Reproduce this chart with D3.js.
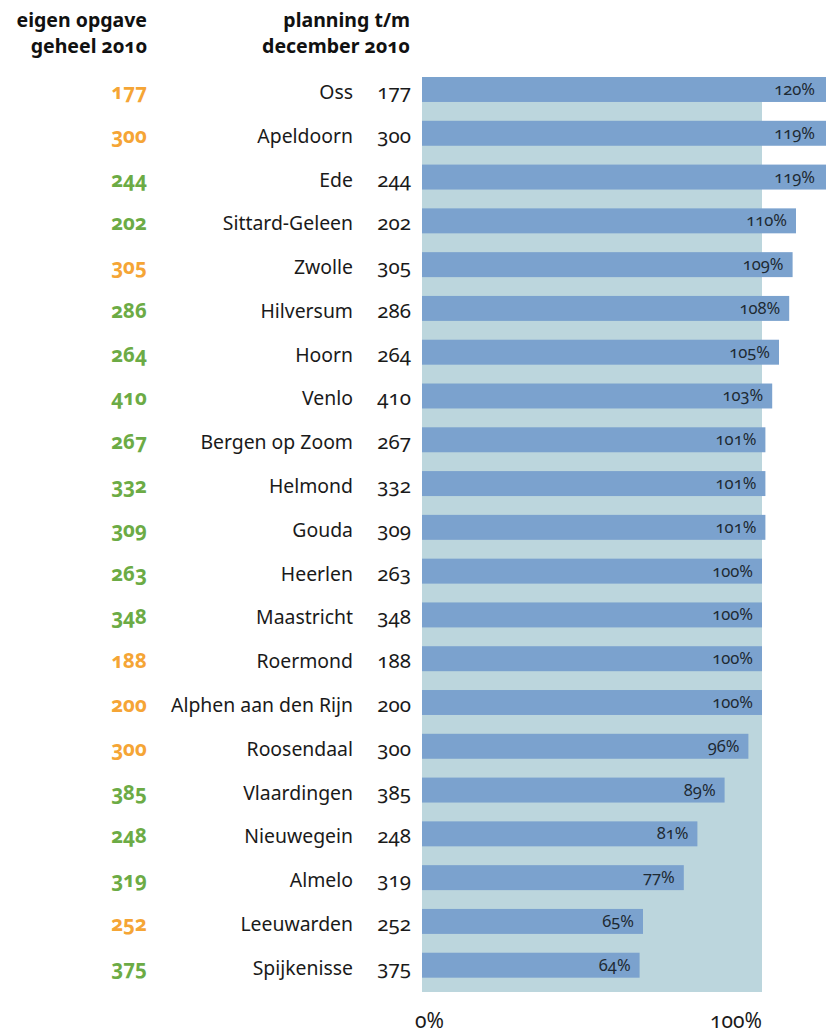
<!DOCTYPE html>
<html><head><meta charset="utf-8">
<script src="https://cdn.jsdelivr.net/npm/d3@7"></script>
<style>
body{margin:0;background:#fff;}
svg text{font-family:"Noto Sans","Open Sans",sans-serif;font-feature-settings:"onum" 1;font-variant-numeric:oldstyle-nums;}
</style></head>
<body><svg id="c" width="826" height="1034"></svg>
<script>
const cities = ["Oss","Apeldoorn","Ede","Sittard-Geleen","Zwolle","Hilversum","Hoorn","Venlo","Bergen op Zoom","Helmond","Gouda","Heerlen","Maastricht","Roermond","Alphen aan den Rijn","Roosendaal","Vlaardingen","Nieuwegein","Almelo","Leeuwarden","Spijkenisse"];
const eigenOpgave = [177,300,244,202,305,286,264,410,267,332,309,263,348,188,200,300,385,248,319,252,375];
const eigenStatus = ["o","o","g","g","o","g","g","g","g","g","g","g","g","o","o","o","g","g","g","o","g"];
const planning = [177,300,244,202,305,286,264,410,267,332,309,263,348,188,200,300,385,248,319,252,375];
const percent = [120,119,119,110,109,108,105,103,101,101,101,100,100,100,100,96,89,81,77,65,64];
const axisTicks = [0,100];
const headerLeft = ["eigen opgave","geheel 2010"];
const headerMid = ["planning t/m","december 2010"];

const W = 826, H = 1034;
const svg = d3.select("#c");
const x = d3.scaleLinear().domain([0,100]).range([422,762]);
const y = d3.scaleBand().domain(cities).range([77-9.4, 977.7+9.4]).paddingInner(0.43).paddingOuter(0.215);
const colorStatus = {o:"#f5a535", g:"#6cab45"};

// background
svg.append("rect").attr("x", x(0)).attr("y", y(cities[0])).attr("width", x(100)-x(0))
  .attr("height", 992 - y(cities[0])).attr("fill", "#bcd6dd");

const rows = svg.selectAll("g.row").data(cities).join("g").attr("class","row");
rows.append("rect").attr("x", x(0)).attr("y", d=>y(d)).attr("height", y.bandwidth())
  .attr("width", (d,i)=>Math.min(x(percent[i]), W) - x(0)).attr("fill","#7ba2ce");

rows.append("text").attr("x",(d,i)=>Math.min(x(percent[i]), W-2) - 9)
  .attr("y", d=>y(d)+y.bandwidth()/2+5.5).attr("text-anchor","end")
  .attr("font-size",16.5).attr("fill","#1e2a33").text((d,i)=>percent[i]+"%");

rows.append("text").attr("x",353).attr("y", d=>y(d)+y.bandwidth()/2+9.5).attr("text-anchor","end")
  .attr("font-size",19.4).attr("fill","#1a1a1a").text(d=>d);
rows.append("text").attr("x",411).attr("y", d=>y(d)+y.bandwidth()/2+9.5).attr("text-anchor","end")
  .attr("font-size",20.5).attr("fill","#1a1a1a").text((d,i)=>planning[i]);
rows.append("text").attr("x",147).attr("y", d=>y(d)+y.bandwidth()/2+9.5).attr("text-anchor","end")
  .attr("font-size",20.5).attr("font-weight","bold").attr("fill",(d,i)=>colorStatus[eigenStatus[i]]).text((d,i)=>eigenOpgave[i]);

// headers
headerLeft.forEach((t,i)=>svg.append("text").attr("x",147).attr("y",27+i*26).attr("text-anchor","end")
  .attr("font-size",19.5).attr("font-weight","bold").attr("fill","#111").text(t));
headerMid.forEach((t,i)=>svg.append("text").attr("x",410).attr("y",27+i*26).attr("text-anchor","end")
  .attr("font-size",19.5).attr("font-weight","bold").attr("fill","#111").text(t));

// axis labels
svg.selectAll("text.tick").data(axisTicks).join("text").attr("class","tick")
  .attr("x", d=> d===0 ? x(d)-7 : x(d)).attr("y",1028)
  .attr("text-anchor", d=> d===0 ? "start" : "end")
  .attr("font-size",21).attr("fill","#1a1a1a").text(d=>d+"%");
</script></body></html>
